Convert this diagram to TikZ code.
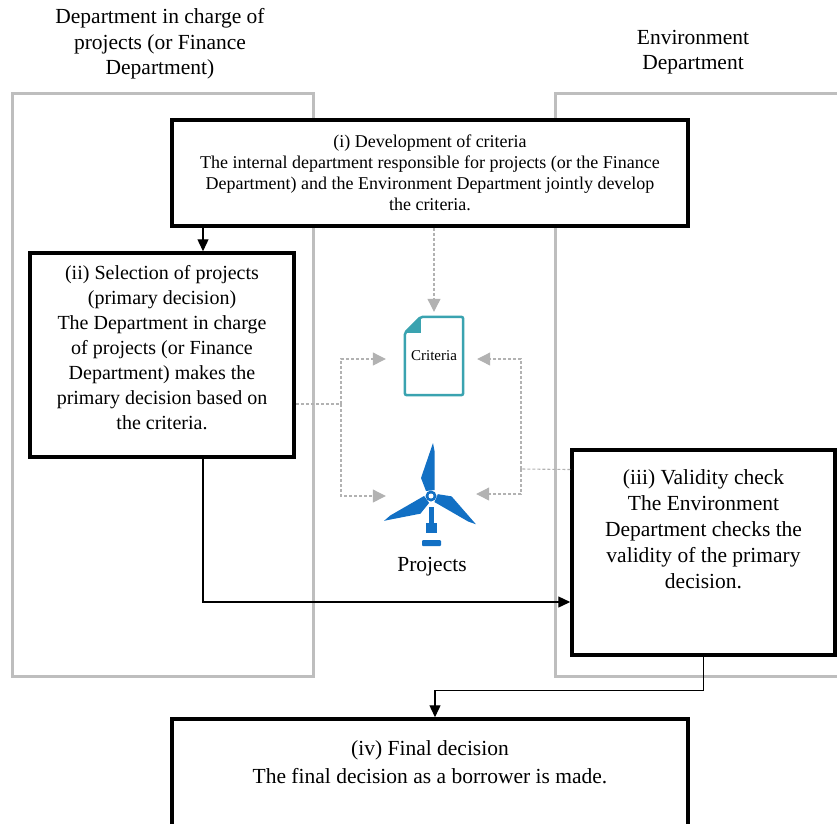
\documentclass[tikz,border=0pt]{standalone}
\usepackage{fontspec}
\setmainfont{Liberation Serif}
\usetikzlibrary{arrows.meta,positioning}
\definecolor{deptgray}{RGB}{190,190,190}
\definecolor{dashgray}{RGB}{178,178,178}
\definecolor{docteal}{RGB}{58,163,176}
\definecolor{turbineblue}{RGB}{18,112,196}

\tikzset{
  deptframe/.style={draw=deptgray, line width=3pt},
  depttitle/.style={align=center, font=\fontsize{21.5}{25.5}\selectfont},
  stepbox/.style={draw, fill=white, line width=3.5pt, inner sep=0pt},
  steptext/.style={align=center, inner sep=0pt},
  flow/.style={line width=1.3pt, -{Triangle[length=12pt,width=11pt]}},
  refline/.style={draw=dashgray, line width=1.1pt, dash pattern=on 3pt off 2pt},
  ref/.style={refline, -{Triangle[length=13pt,width=13pt,fill=dashgray]}},
  blade/.style={fill=turbineblue}
}

\begin{document}
\begin{tikzpicture}[x=1pt,y=-1pt]
\useasboundingbox (0,0) rectangle (837,823);
\clip (0,0) rectangle (837,823);

% department frames
\draw[deptframe] (12,93) rectangle (313,676);
\draw[deptframe] (555,93) rectangle (860,676);
\node[depttitle] (leftdept) at (160,44) {Department in charge of\\projects (or Finance\\Department)};
\node[depttitle] (rightdept) at (693,52) {Environment\\Department};

% the four steps
\node[stepbox, minimum width=516pt, minimum height=106pt] (crit) at (430,173) {};
\node[steptext, font=\fontsize{18}{21}\selectfont] (crittext) at (crit.center)
  {(i) Development of criteria\\The internal department responsible for projects (or the Finance\\Department) and the Environment Department jointly develop\\the criteria.};

\node[stepbox, minimum width=264pt, minimum height=204pt] (select) at (162,355) {};
\node[steptext, font=\fontsize{20}{25}\selectfont] (selecttext) at ([yshift=7pt]select.center)
  {(ii) Selection of projects\\(primary decision)\\The Department in charge\\of projects (or Finance\\Department) makes the\\primary decision based on\\the criteria.};

\node[stepbox, minimum width=263pt, minimum height=205pt] (check) at (703.5,552.5) {};
\node[steptext, font=\fontsize{21.5}{26}\selectfont] (checktext) at ([yshift=23pt]check.center)
  {(iii) Validity check\\The Environment\\Department checks the\\validity of the primary\\decision.};

\node[stepbox, minimum width=516pt, minimum height=130pt] (final) at (430,784) {};
\node[steptext, font=\fontsize{21.5}{28}\selectfont] (finaltext) at ([yshift=22pt]final.center)
  {(iv) Final decision\\The final decision as a borrower is made.};

\draw[flow] ([xshift=41pt]select.north |- crit.south) -- ([xshift=41pt]select.north);
\draw[flow] ([xshift=41pt]select.south) |- ([yshift=-49.5pt]check.west);
\draw[flow] (check.south) -- ++(0,34) -| ([xshift=5pt]final.north);

% criteria document
\node[minimum width=58pt, minimum height=78pt, font=\fontsize{15}{18}\selectfont] (doc) at (434,356) {Criteria};
\draw[docteal, line width=2.5pt, rounded corners=2pt] (doc.south west) -- ([yshift=-16pt]doc.north west)
  -- ([xshift=16pt]doc.north west) -- (doc.north east) -- (doc.south east) -- cycle;
\fill[docteal] ([yshift=-16pt]doc.north west) -- ([xshift=16pt]doc.north west) -- ([xshift=16pt,yshift=-16pt]doc.north west) -- cycle;

% wind turbine
\node[minimum width=90pt, minimum height=60pt] (turbine) at (431,496) {};
\begin{scope}[shift={(turbine.center)}, yscale=-1]
  \foreach \a in {0,120,240}
    \fill[blade, rotate=\a] (3.5,6) -- (3.5,45) -- (2,53) -- (-10,18) -- (-5,5) -- cycle;
  \fill[turbineblue] (0,0) circle (5.5);
  \fill[white] (0,0) circle (2.5);
  \fill[turbineblue] (-2.2,-11) rectangle (2.8,-27);
  \fill[turbineblue] (-5,-27) rectangle (6,-37);
  \fill[turbineblue, rounded corners=1pt] (-9,-44) rectangle (10,-50);
\end{scope}
\node[font=\fontsize{21.5}{25}\selectfont] (projlabel) at (432,567) {Projects};

% dashed references to criteria and projects
\draw[ref, shorten >=5pt] (doc.north |- crit.south) -- (doc.north);
\coordinate (ljoin) at (341,404);
\coordinate (rjoin) at (521,469);
\draw[refline] ([yshift=-49pt]select.east) -- (ljoin);
\draw[ref] (ljoin) |- ([xshift=-19pt,yshift=-3pt]doc.west);
\draw[ref] (ljoin) |- (turbine.west);
\draw[refline] ([yshift=83pt]check.west) -- (rjoin);
\draw[ref] (rjoin) |- ([xshift=14pt,yshift=-3pt]doc.east);
\draw[ref] (rjoin) |- ([yshift=2pt]turbine.east);
\end{tikzpicture}
\end{document}
